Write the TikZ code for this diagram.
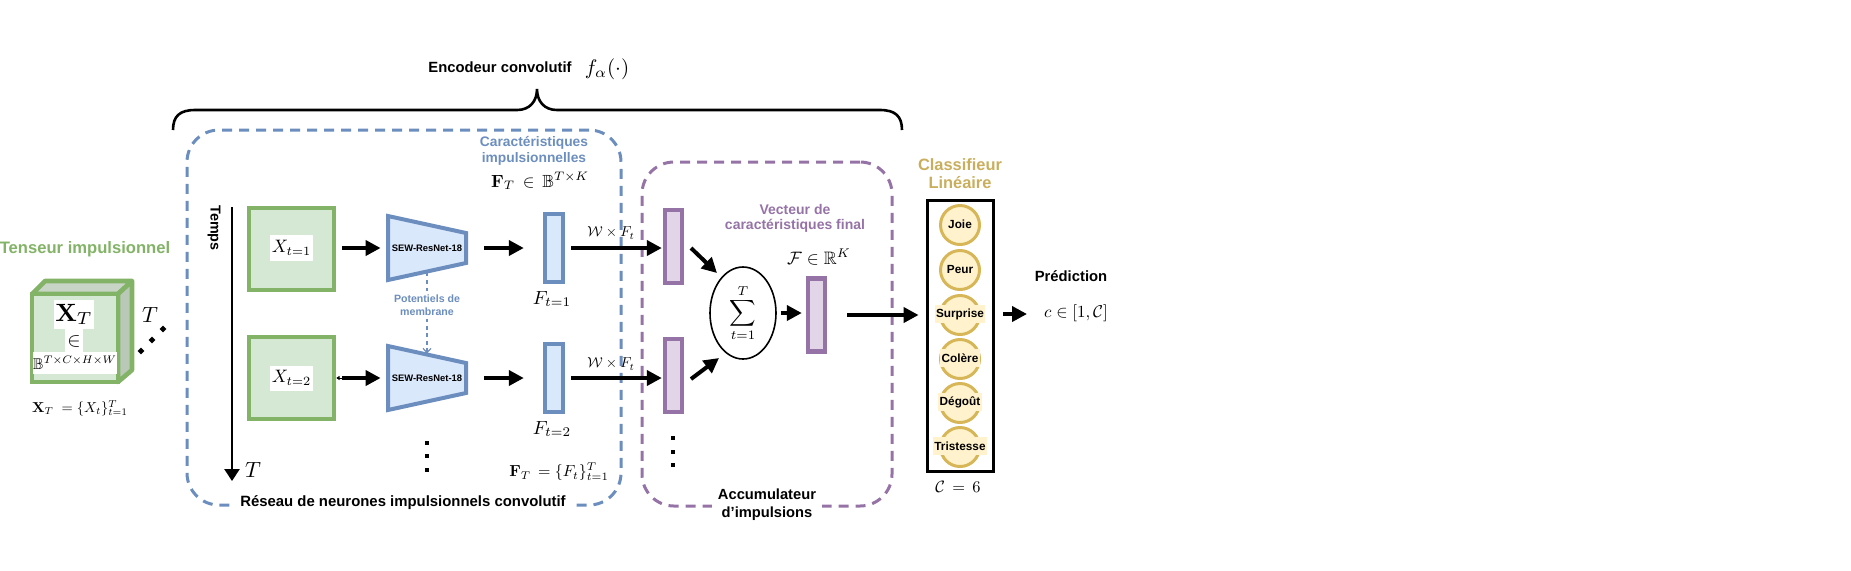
\documentclass[tikz,border=0pt]{standalone}
\usepackage{amsmath,amssymb}
\usepackage[no-math]{fontspec}
\setmainfont{Liberation Sans}
\usetikzlibrary{arrows.meta,shapes.geometric}
\definecolor{gfill}{HTML}{D5E8D4}\definecolor{gline}{HTML}{82B366}
\definecolor{bfill}{HTML}{DAE8FC}\definecolor{bline}{HTML}{6C8EBF}
\definecolor{pfill}{HTML}{E1D5E7}\definecolor{pline}{HTML}{9673A6}
\definecolor{yfill}{HTML}{FFF2CC}\definecolor{yline}{HTML}{D6B656}
\definecolor{ytext}{HTML}{C9AE5C}
\definecolor{ctop}{HTML}{C8D5C6}\definecolor{cside}{HTML}{BAC8B8}
\tikzset{
 sz/.style 2 args={minimum width=#1*.5pt,minimum height=#2*.5pt,inner sep=0pt},
 greenbox/.style={draw=gline,fill=gfill,line width=2.3pt,sz={85}{82}},
 bluebar/.style={draw=bline,fill=bfill,line width=2.2pt,sz={18}{68}},
 purplebar/.style={draw=pline,fill=pfill,line width=2.2pt,sz={17}{73}},
 trap/.style={draw=bline,fill=bfill,line width=2pt,line join=miter},
 encnode/.style={sz={82}{48},font=\bfseries\fontsize{4.7}{5}\selectfont},
 mathlab/.style={inner sep=0pt,scale=#1},
 title/.style 2 args={font=\bfseries\fontsize{#1}{\dimexpr#1pt*12/10\relax}\selectfont,text=#2,align=center,inner sep=0pt},
 arr/.style={line width=2pt,-{Triangle[length=7.5pt,width=7.5pt]}},
 region/.style={line width=1.5pt,rounded corners=16pt,dash pattern=on 5pt off 3.5pt},
 classcircle/.style={circle,draw=yline,fill=yfill,line width=1.5pt,minimum size=39*.5pt,inner sep=0pt},
 classlab/.style={font=\bfseries\fontsize{5.9}{6.5}\selectfont,fill=yfill,inner xsep=.6pt,inner ysep=0pt,minimum height=9pt},
 dotmark/.style={fill=black,inner sep=0pt,minimum size=2pt},
}
\begin{document}
\begin{tikzpicture}[x=.5pt,y=-.5pt]
\useasboundingbox (0,0) rectangle (1851,570);
% regions
\node[region,draw=bline,sz={434}{375}] (snn) at (404,317.5) {};
\node[region,draw=pline,sz={250}{344}] (acc) at (767,334) {};
% brace
\draw[line width=1.3pt] (173,130) .. controls (173,116) and (180,110) .. (195,110) -- (517,110) .. controls (530,110) and (537,101) .. (537,89) .. controls (537,101) and (544,110) .. (557,110) -- (880,110) .. controls (895,110) and (902,116) .. (902,130);
\node[title={7.4}{black}] (enc) at (500,67) {Encodeur convolutif};
\node[mathlab=1.05] (falpha) at (607,69) {$f_{\alpha}(\cdot)$};
% cube
\draw[draw=gline,fill=ctop,line width=2.3pt,line join=round] (32,294) -- (45,281) -- (132,281) -- (118,294) -- cycle;
\draw[draw=gline,fill=cside,line width=2.3pt,line join=round] (118,294) -- (132,281) -- (132,370) -- (118,382) -- cycle;
\node[draw=gline,fill=gfill,line width=2.3pt,sz={86}{88}] (cube) at (75,338) {};
\node[title={8.3}{gline}] (tens) at (85,249) {Tenseur impulsionnel};
\node[fill=white,sz={40}{29}] (xtb) at (74,314.5) {\scalebox{1.25}{$\mathbf{X}_T$}};
\node[fill=white,sz={18}{24}] (inb) at (74,341) {$\in$};
\node[fill=white,sz={76}{22}] (bbb) at (75,363) {\scalebox{.78}{$\mathbb{B}^{T\times C\times H\times W}$}};
\node[mathlab=1.1] (tdepth) at (150,315) {$T$};
\node[dotmark,diamond,aspect=1,minimum size=3.6pt] (dc1) at (141,351) {};
\node[dotmark,diamond,aspect=1,minimum size=3.6pt] (dc2) at (152,340) {};
\node[dotmark,diamond,aspect=1,minimum size=3.6pt] (dc3) at (163,329) {};
\node[mathlab=.72] (xtdef) at (80,408) {$\mathbf{X}_T\;=\{X_t\}_{t=1}^{T}$};
% time
\coordinate (tstart) at (232,207);
\coordinate (tend) at (232,481);
\draw[line width=1.3pt,-{Triangle[length=6pt,width=7.5pt]}] (tstart) -- (tend);
\node[title={7.2}{black},rotate=-90] (temps) at (214,228) {Temps};
\node[mathlab=1.1] (taxis) at (253,470) {$T$};
% green
\node[greenbox] (g1) at (291.5,249) {};
\node[greenbox] (g2) at (291.5,378) {};
\node[fill=white,sz={43}{26}] (x1) at (291.5,248) {\scalebox{.9}{$X_{t=1}$}};
\node[fill=white,sz={43}{25}] (x2) at (291.5,378) {\scalebox{.9}{$X_{t=2}$}};
% encoders
\draw[trap] (388,216) -- (466,233) -- (466,263) -- (388,280) -- cycle;
\draw[trap] (388,346) -- (466,363) -- (466,393) -- (388,410) -- cycle;
\node[encnode] (e1) at (427,248) {SEW-ResNet-18};
\node[encnode] (e2) at (427,378) {SEW-ResNet-18};
\draw[bline,line width=.6pt,dash pattern=on 2pt off 1.8pt,-{Straight Barb[length=2.2pt,width=4pt]}] (e1.south) -- (e2.north);
\node[title={5.3}{bline},fill=white,inner ysep=2pt] (pot) at (427,305) {Potentiels de\\membrane};
% F bars
\node[bluebar] (f1) at (554,248) {};
\node[bluebar] (f2) at (554,378) {};
\node[mathlab=.95] (f1l) at (552,299) {$F_{t=1}$};
\node[mathlab=.95] (f2l) at (552,429) {$F_{t=2}$};
\node[title={6.9}{bline}] (carac) at (534,151) {Caractéristiques\\[-.6pt]impulsionnelles};
\node[mathlab=.88] (ftin) at (540,181) {$\mathbf{F}_T\,\in\,\mathbb{B}^{T\times K}$};
\node[mathlab=.8] (ftdef) at (559,472) {$\mathbf{F}_T\,=\{F_t\}_{t=1}^{T}$};
% purple
\node[purplebar] (p1) at (673.5,246.5) {};
\node[purplebar] (p2) at (673.5,375.5) {};
\node[purplebar] (pf) at (816.5,315) {};
\node[ellipse,draw=black,line width=.8pt,sz={66}{92}] (sum) at (743,313) {\scalebox{.92}{$\displaystyle\sum_{t=1}^{T}$}};
\node[title={7}{pline}] (vect) at (795,218.5) {Vecteur de\\[-.6pt]caractéristiques final};
\node[mathlab=.9] (finr) at (819,257) {$\mathcal{F}\in\mathbb{R}^{K}$};
\node[mathlab=.72] (wf1) at (611,233) {$\mathcal{W}\times F_t$};
\node[mathlab=.72] (wf2) at (611,364) {$\mathcal{W}\times F_t$};
% classifier
\node[draw=black,line width=1.5pt,sz={66}{271}] (cls) at (960.5,336) {};
\node[title={8.2}{ytext}] (clst) at (960,173.5) {Classifieur\\[-.6pt]Linéaire};
\foreach \n/\y/\t in {c1/225/Joie,c2/270/Peur,c3/315/Surprise,c4/359/Colère,c5/403/Dégoût,c6/447/Tristesse}{
  \node[classcircle] (\n) at (960,\y) {};
  \node[classlab] (\n l) at (960,\y-1) {\t};
}
\node[mathlab=.82] (c6eq) at (958,487) {$\mathcal{C}\,=\,6$};
\node[title={7.4}{black}] (pred) at (1071,276) {Prédiction};
\node[mathlab=.85] (cin) at (1076,313) {$c\in[1,\mathcal{C}]$};
% bottom labels
\node[title={7.45}{black},fill=white,inner xsep=3pt,inner ysep=2pt] (snnl) at (403,503) {Réseau de neurones impulsionnels convolutif};
\node[title={7.35}{black},fill=white,inner xsep=3pt,inner ysep=1pt] (accl) at (767,505) {Accumulateur\\d'impulsions};
% dots
\foreach \n/\x/\y in {d1/427/443,d2/427/456,d3/427/470,d4/673/438,d5/673/452,d6/673/465}{
  \node[dotmark] (\n) at (\x,\y) {};
}
% arrows
\draw[arr,shorten <=3pt,shorten >=2.5pt] (g1.east |- e1.west) -- (e1.west);
\draw[arr,shorten <=3pt,shorten >=2.5pt] (g2.east) -- (e2.west);
\draw[line width=.4pt,{Triangle[length=1.6pt,width=2pt]}-] (g2.east) -- ++(6,0);
\draw[arr,shorten <=8pt,shorten >=9.5pt] (e1.east) -- (f1.west);
\draw[arr,shorten <=8pt,shorten >=9.5pt] (e2.east) -- (f2.west);
\draw[arr,shorten <=3pt,shorten >=.5pt] (f1.east) -- (p1.west |- f1.east);
\draw[arr,shorten <=3pt,shorten >=.5pt] (f2.east) -- (p2.west |- f2.east);
\coordinate (a1) at (691,248); \coordinate (b1) at (717,273);
\coordinate (a2) at (691,379); \coordinate (b2) at (719,358);
\draw[arr] (a1) -- (b1);
\draw[arr] (a2) -- (b2);
\draw[arr,shorten <=2pt,shorten >=2pt] (sum.east) -- (pf.west |- sum.east);
\draw[arr,shorten <=10pt,shorten >=3.7pt] (pf.east) -- (cls.west |- pf.east);
\coordinate (cout) at (1027,314);
\draw[arr,shorten <=4pt] (cls.east |- cout) -- (cout);
\end{tikzpicture}
\end{document}
